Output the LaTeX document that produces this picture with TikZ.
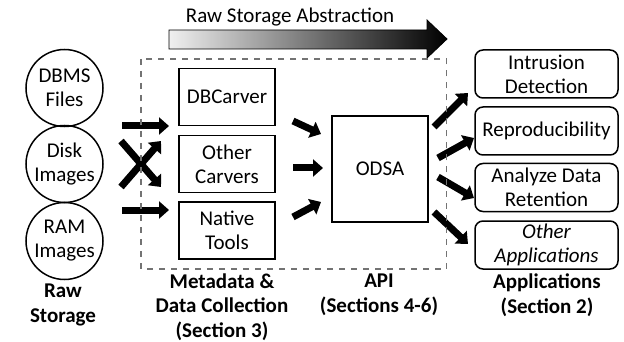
\documentclass[tikz,border=0pt]{standalone}
\usepackage{fontspec}
\setmainfont{Carlito}
\usetikzlibrary{arrows.meta}
\begin{document}
\begin{tikzpicture}[x=1pt,y=-1pt,
  txt/.style={font=\fontsize{21}{24}\selectfont, align=center},
  lbl/.style={font=\bfseries\fontsize{21}{24.5}\selectfont, align=center},
  src/.style={txt, circle, draw, line width=1.5pt, minimum size=77pt, inner sep=0pt},
  tool/.style={txt, draw, line width=1.5pt, minimum width=96pt, minimum height=57pt, inner sep=0pt},
  app/.style={txt, draw, line width=1.5pt, rounded corners=8pt, minimum width=143pt, minimum height=48pt, inner sep=0pt},
  blk/.style={line width=7pt, -{Triangle[width=17pt,length=10pt]}},
  region/.style={draw=black!55, line width=1.6pt, dash pattern=on 6pt off 6pt}
]
\useasboundingbox (0,0) rectangle (624,342);

% title and gradient arrow
\node[txt] (title) at (290,17) {Raw Storage Abstraction};
\shade[left color=black!6, right color=black, draw=black, line width=0.8pt]
  (169,30) -- (427,30) -- (427,20) -- (447,39) -- (427,58) -- (427,49) -- (169,49) -- cycle;

% raw storage
\node[src] (dbms) at (64.5,88) {DBMS\\Files};
\node[src] (disk) at (64.5,164) {Disk\\Images};
\node[src] (ram) at (64.5,241) {RAM\\Images};
\node[lbl] (rawlbl) at (63,305) {Raw\\Storage};

% tools
\node[tool] (dbc) at (227,97) {DBCarver};
\node[tool] (oth) at (227,164) {Other\\Carvers};
\node[tool] (nat) at (227,230.5) {Native\\Tools};
\node[lbl] (mdlbl) at (222,307) {Metadata \&\\Data Collection\\(Section 3)};

% ODSA
\node[txt, draw, line width=1.5pt, minimum width=96pt, minimum height=106pt, inner sep=0pt] (odsa) at (380,169) {ODSA};
\node[lbl] (apilbl) at (379,295) {API\\(Sections 4-6)};

% applications
\node[app] (intr) at (546.5,74) {Intrusion\\Detection};
\node[app] (repr) at (546.5,131) {Reproducibility};
\node[app] (anal) at (546.5,187.5) {Analyze Data\\Retention};
\node[app] (othapp) at (546.5,245) {\itshape Other\\\itshape Applications};
\node[lbl] (applbl) at (547,295) {Applications\\(Section 2)};

% arrow end points
\coordinate (a1s) at (122,126); \coordinate (a1e) at (169,126);
\coordinate (x1s) at (121,187); \coordinate (x1e) at (161,141);
\coordinate (x2s) at (121,141); \coordinate (x2e) at (161,187);
\coordinate (a3s) at (122,210); \coordinate (a3e) at (169,210);
\coordinate (m1s) at (293,121); \coordinate (m1e) at (321,134);
\coordinate (m2s) at (293,168); \coordinate (m2e) at (323,168);
\coordinate (m3s) at (293,217); \coordinate (m3e) at (321,202);
\coordinate (r1s) at (434,127); \coordinate (r1e) at (468,93);
\coordinate (r2s) at (438,158); \coordinate (r2e) at (474,138);
\coordinate (r3s) at (438,177); \coordinate (r3e) at (474,198);
\coordinate (r4s) at (434,212); \coordinate (r4e) at (468,244);

\foreach \s/\e in {a1s/a1e, x1s/x1e, x2s/x2e, a3s/a3e, m1s/m1e, m2s/m2e, m3s/m3e, r1s/r1e, r2s/r2e, r3s/r3e, r4s/r4e}
  \draw[blk] (\s) -- (\e);

% dashed region
\draw[region] (141,59) rectangle (446.5,269);
\end{tikzpicture}
\end{document}
